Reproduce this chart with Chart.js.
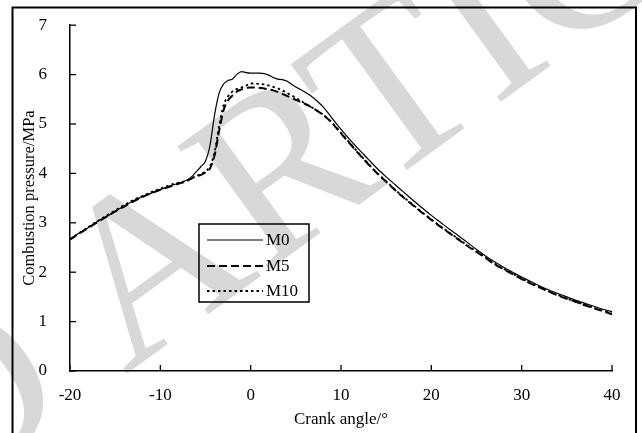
<!DOCTYPE html>
<html><head><meta charset="utf-8">
<script src="https://cdn.jsdelivr.net/npm/chart.js@4/dist/chart.umd.min.js"></script>
<style>html,body{margin:0;padding:0;background:#fff;}canvas{display:block;}</style>
</head><body>
<canvas id="c" width="642" height="433"></canvas>
<script>
// ---- data ----
const angles = [-20,-19,-18,-17,-16,-15,-14,-13,-12,-11,-10,-9,-8,-7,
  -6.5,-6,-5.5,-5,-4.5,-4,-3.5,-3,-2.5,-2,-1.5,-1,-0.5,0,0.5,1,1.5,2,2.5,3,3.5,4,4.5,5,5.5,6,6.5,7,7.5,8,
  9,10,11,12,13,14,15,16,17,18,19,20,21,22,23,24,25,26,27,28,29,30,31,32,33,34,35,36,37,38,39,40];
const m0 = [2.67,2.79,2.90,3.02,3.12,3.23,3.34,3.44,3.53,3.60,3.67,3.74,3.80,3.87,
  3.94,4.04,4.14,4.25,4.57,5.18,5.62,5.81,5.88,5.91,6.01,6.06,6.04,6.03,6.03,6.03,6.02,5.99,5.94,5.91,5.90,5.87,5.81,5.75,5.70,5.65,5.59,5.52,5.44,5.35,
  5.12,4.89,4.68,4.48,4.29,4.10,3.93,3.77,3.61,3.45,3.30,3.15,3.01,2.87,2.74,2.60,2.46,2.33,2.21,2.10,2.00,1.90,1.81,1.72,1.64,1.57,1.50,1.43,1.37,1.31,1.25,1.20];
const m5 = [2.66,2.78,2.89,3.01,3.12,3.23,3.33,3.43,3.52,3.60,3.67,3.73,3.79,3.85,
  3.90,3.94,3.97,4.02,4.10,4.36,4.85,5.28,5.48,5.58,5.66,5.70,5.73,5.74,5.74,5.73,5.72,5.70,5.68,5.65,5.61,5.57,5.53,5.49,5.45,5.41,5.36,5.31,5.25,5.19,
  5.02,4.81,4.60,4.39,4.19,4.00,3.83,3.66,3.50,3.35,3.20,3.06,2.92,2.79,2.66,2.53,2.41,2.29,2.16,2.06,1.96,1.86,1.77,1.69,1.61,1.53,1.46,1.40,1.33,1.27,1.21,1.15];
const m10 = [2.67,2.79,2.91,3.03,3.14,3.25,3.36,3.46,3.54,3.62,3.69,3.76,3.81,3.86,
  3.91,3.95,3.99,4.04,4.15,4.42,4.95,5.38,5.56,5.66,5.71,5.74,5.78,5.82,5.82,5.81,5.80,5.78,5.75,5.72,5.68,5.63,5.58,5.53,5.47,5.42,5.37,5.31,5.25,5.19,
  5.03,4.82,4.61,4.40,4.20,4.01,3.84,3.67,3.51,3.36,3.21,3.07,2.93,2.80,2.67,2.54,2.42,2.30,2.17,2.07,1.97,1.87,1.78,1.70,1.61,1.54,1.47,1.40,1.34,1.28,1.22,1.16];
const seriesNames = ['M0','M5','M10'];
const xTicks = [-20,-10,0,10,20,30,40];
const xTickLabels = ['-20','-10','0','10','20','30','40'];
const yTicks = [0,1,2,3,4,5,6,7];
const yTickLabels = ['0','1','2','3','4','5','6','7'];
const xTitle = 'Crank angle/°';
const yTitle = 'Combustion pressure/MPa';
const watermarkBefore = 'RETRACTED ';
const watermarkMain = 'ARTICLE';

const FONT = "'Liberation Serif','Times New Roman',serif";

// ---- plugins ----
const watermark = {
  id: 'watermark',
  beforeDraw(chart) {
    const ctx = chart.ctx;
    ctx.save();
    ctx.font = "235px " + FONT;
    ctx.fillStyle = '#d8d8d8';
    ctx.translate(148, 262);
    ctx.rotate(-36 * Math.PI / 180);
    const wA = ctx.measureText('A').width;
    const cap = 0.662 * 235;
    ctx.textBaseline = 'alphabetic';
    ctx.textAlign = 'left';
    ctx.fillText(watermarkMain, -wA / 2, cap / 2);
    ctx.textAlign = 'right';
    ctx.fillText(watermarkBefore, -wA / 2, cap / 2);
    ctx.restore();
  }
};

const frameAndTicks = {
  id: 'frameAndTicks',
  afterDraw(chart) {
    const {ctx, scales: {x, y}} = chart;
    ctx.save();
    ctx.strokeStyle = '#000';
    // outer frame (left, top, right)
    ctx.lineWidth = 2;
    ctx.beginPath();
    ctx.moveTo(12.5, 440); ctx.lineTo(12.5, 7.5); ctx.lineTo(636, 7.5); ctx.lineTo(636, 440);
    ctx.stroke();
    // inward ticks
    ctx.lineWidth = 1.3;
    xTicks.forEach(v => {
      const px = x.getPixelForValue(v);
      ctx.beginPath(); ctx.moveTo(px, y.bottom); ctx.lineTo(px, y.bottom - 6); ctx.stroke();
    });
    yTicks.forEach(v => {
      const py = y.getPixelForValue(v);
      ctx.beginPath(); ctx.moveTo(x.left, py); ctx.lineTo(x.left + 6, py); ctx.stroke();
    });
    // legend box
    const bx = 199, by = 224, bw = 110, bh = 78;
    ctx.lineWidth = 1.5;
    ctx.strokeRect(bx, by, bw, bh);
    const rows = [240, 266, 291];
    ctx.font = "17px " + FONT;
    ctx.fillStyle = '#000';
    ctx.textBaseline = 'middle';
    ctx.textAlign = 'left';
    chart.data.datasets.forEach((ds, i) => {
      ctx.save();
      ctx.lineWidth = ds.borderWidth;
      ctx.setLineDash(ds.borderDash || []);
      ctx.beginPath(); ctx.moveTo(207, rows[i]); ctx.lineTo(263, rows[i]); ctx.stroke();
      ctx.restore();
      ctx.fillText(ds.label, 266, rows[i] + 1);
    });
    ctx.restore();
  }
};

const mk = arr => angles.map((a, i) => ({x: a, y: arr[i]}));

new Chart(document.getElementById('c'), {
  type: 'line',
  data: {
    datasets: [
      {label: seriesNames[0], data: mk(m0), borderColor: '#000', borderWidth: 1.2, borderDash: [], pointRadius: 0, fill: false},
      {label: seriesNames[1], data: mk(m5), borderColor: '#000', borderWidth: 2, borderDash: [8, 4], pointRadius: 0, fill: false},
      {label: seriesNames[2], data: mk(m10), borderColor: '#000', borderWidth: 1.8, borderDash: [2.5, 3], pointRadius: 0, fill: false}
    ]
  },
  options: {
    responsive: false,
    animation: false,
    events: [],
    layout: {padding: {top: 22, right: 30, left: 0, bottom: 0}},
    plugins: {legend: {display: false}, tooltip: {enabled: false}},
    elements: {line: {cubicInterpolationMode: 'monotone'}},
    scales: {
      x: {
        type: 'linear', min: -20, max: 40,
        afterFit: s => { s.height = 62; },
        grid: {display: false},
        border: {display: true, color: '#000', width: 1.5},
        ticks: {stepSize: 10, padding: 6, color: '#000', font: {family: FONT, size: 17},
          callback: v => { const k = xTicks.indexOf(v); return k >= 0 ? xTickLabels[k] : ''; }},
        title: {display: true, text: xTitle, color: '#000', font: {family: FONT, size: 17}, padding: {top: 0, bottom: 3}}
      },
      y: {
        type: 'linear', min: 0, max: 7,
        afterFit: s => { s.width = 70; },
        grid: {display: false},
        border: {display: true, color: '#000', width: 1.5},
        ticks: {stepSize: 1, padding: 15, color: '#000', font: {family: FONT, size: 17},
          callback: v => { const k = yTicks.indexOf(v); return k >= 0 ? yTickLabels[k] : ''; }},
        title: {display: true, text: yTitle, color: '#000', font: {family: FONT, size: 16.5}, padding: {top: 20, bottom: 0}}
      }
    }
  },
  plugins: [watermark, frameAndTicks]
});
</script>
</body></html>
